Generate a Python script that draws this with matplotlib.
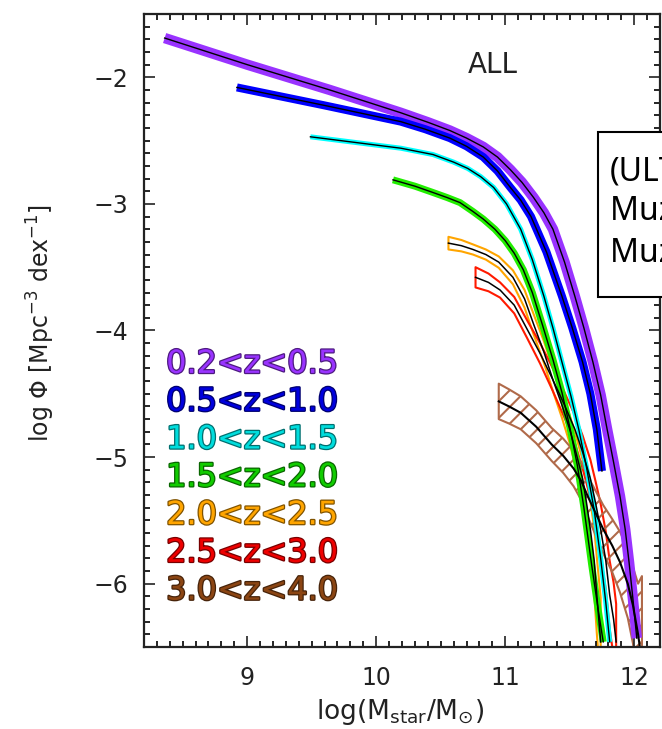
import numpy as np
import matplotlib.pyplot as plt
import matplotlib.patheffects as pe
from matplotlib.colors import to_rgb
from matplotlib.patches import Rectangle
from matplotlib.ticker import MultipleLocator

# stellar mass functions, ALL galaxies, one curve per redshift bin
# x = log(Mstar/Msun), y = log phi (central fit)
x_z02 = [8.36, 9.00, 9.64, 10.19, 10.40, 10.57, 10.70, 10.83, 10.94, 11.04, 11.13, 11.22,
         11.30, 11.37, 11.46, 11.54, 11.61, 11.68, 11.74, 11.79, 11.84, 11.89, 11.93, 11.96,
         11.99, 12.02]
y_z02 = [-1.69, -1.90, -2.10, -2.28, -2.355, -2.42, -2.48, -2.55, -2.63, -2.73, -2.83, -2.95,
         -3.07, -3.20, -3.46, -3.73, -3.98, -4.25, -4.51, -4.78, -5.04, -5.31, -5.57, -5.83,
         -6.12, -6.43]

x_z05 = [8.92, 9.59, 10.19, 10.38, 10.57, 10.70, 10.83, 10.94, 11.04, 11.12, 11.20, 11.32,
         11.44, 11.52, 11.60, 11.66, 11.71, 11.75]
y_z05 = [-2.08, -2.22, -2.35, -2.41, -2.48, -2.545, -2.63, -2.74, -2.87, -2.97, -3.10, -3.38,
         -3.73, -3.98, -4.25, -4.50, -4.78, -5.11]

x_z10 = [9.49, 9.88, 10.19, 10.44, 10.60, 10.71, 10.81, 10.91, 11.01, 11.12, 11.21, 11.30,
         11.37, 11.44, 11.51, 11.57, 11.63, 11.69, 11.74, 11.78, 11.81]
y_z10 = [-2.47, -2.52, -2.56, -2.61, -2.67, -2.72, -2.785, -2.87, -3.00, -3.20, -3.44, -3.73,
         -3.98, -4.25, -4.52, -4.78, -5.08, -5.42, -5.80, -6.15, -6.46]

x_z15 = [10.13, 10.30, 10.44, 10.55, 10.65, 10.75, 10.83, 10.92, 11.00, 11.07, 11.14, 11.21,
         11.29, 11.37, 11.44, 11.50, 11.56, 11.61, 11.67, 11.72, 11.76]
y_z15 = [-2.81, -2.86, -2.91, -2.95, -2.99, -3.06, -3.12, -3.20, -3.29, -3.39, -3.52, -3.70,
         -3.96, -4.23, -4.49, -4.76, -5.07, -5.40, -5.85, -6.20, -6.46]

# these three bins are drawn with their uncertainty (half width in dex)
x_z20 = [10.56, 10.66, 10.75, 10.85, 10.95, 11.06, 11.15, 11.22, 11.30, 11.37, 11.44, 11.50,
         11.55, 11.60, 11.63, 11.66, 11.69, 11.71, 11.74]
y_z20 = [-3.31, -3.33, -3.36, -3.40, -3.46, -3.58, -3.75, -3.95, -4.17, -4.39, -4.59, -4.78,
         -4.97, -5.17, -5.36, -5.57, -5.82, -6.09, -6.46]
e_z20 = [0.05, 0.045, 0.04, 0.04, 0.045, 0.055, 0.07, 0.08, 0.085, 0.09, 0.10, 0.11,
         0.13, 0.15, 0.18, 0.22, 0.26, 0.30, 0.35]

x_z25 = [10.77, 10.87, 10.96, 11.07, 11.17, 11.27, 11.37, 11.46, 11.54, 11.60, 11.66, 11.70,
         11.74, 11.78, 11.81, 11.84, 11.86]
y_z25 = [-3.58, -3.62, -3.68, -3.80, -3.99, -4.18, -4.39, -4.59, -4.78, -4.96, -5.17, -5.36,
         -5.57, -5.82, -6.09, -6.28, -6.46]
e_z25 = [0.08, 0.07, 0.06, 0.065, 0.07, 0.08, 0.09, 0.10, 0.11, 0.13, 0.15, 0.17,
         0.20, 0.23, 0.27, 0.29, 0.30]

x_z30 = [10.95, 11.03, 11.12, 11.24, 11.36, 11.45, 11.53, 11.59, 11.64, 11.70, 11.76, 11.83,
         11.89, 11.95, 11.99, 12.03, 12.06]
y_z30 = [-4.56, -4.60, -4.65, -4.76, -4.90, -4.99, -5.09, -5.19, -5.31, -5.44, -5.57, -5.70,
         -5.83, -6.00, -6.17, -6.40, -6.62]
e_z30 = [0.14, 0.135, 0.13, 0.13, 0.13, 0.135, 0.14, 0.15, 0.16, 0.175, 0.19, 0.21,
         0.24, 0.27, 0.30, 0.40, 0.68]

z_labels = ['0.2<z<0.5', '0.5<z<1.0', '1.0<z<1.5', '1.5<z<2.0',
            '2.0<z<2.5', '2.5<z<3.0', '3.0<z<4.0']
colors = ['#9933ff', '#0000ff', '#00ffff', '#22ee00', '#ffa500', '#ff1a00', '#b06a4a']
text_colors = ['#9933ff', '#0000dd', '#00dddd', '#11cc00', '#ffa500', '#ee0000', '#8b4513']

plt.rcParams['font.family'] = 'DejaVu Sans'
plt.rcParams['hatch.linewidth'] = 1.5

fig = plt.figure(figsize=(6.62, 7.29), dpi=100)
ax = fig.add_axes([0.2175, 0.1125, 0.7795, 0.8683])


def solid_band(x, y, color, width):
    ax.plot(x, y, color=color, lw=width, solid_capstyle='butt', solid_joinstyle='round')
    ax.plot(x, y, color='k', lw=1.0)


def open_band(x, y, err, color, hatch=None, centre_lw=1.1):
    x, y, err = np.asarray(x), np.asarray(y), np.asarray(err)
    ax.fill_between(x, y - err, y + err, facecolor='none', edgecolor=color,
                    lw=1.5, hatch=hatch)
    ax.plot(x, y, color='k', lw=centre_lw)


solid_band(x_z02, y_z02, colors[0], 7.5)
solid_band(x_z05, y_z05, colors[1], 5.8)
solid_band(x_z10, y_z10, colors[2], 3.6)
solid_band(x_z15, y_z15, colors[3], 5.0)
open_band(x_z20, y_z20, e_z20, colors[4])
open_band(x_z25, y_z25, e_z25, colors[5])
open_band(x_z30, y_z30, e_z30, colors[6], hatch='//', centre_lw=1.5)

ax.set_xlim(8.2, 12.2)
ax.set_ylim(-6.5, -1.5)
ax.set_xticks([9, 10, 11, 12])
ax.set_yticks([-6, -5, -4, -3, -2])
ax.xaxis.set_minor_locator(MultipleLocator(0.1))
ax.yaxis.set_minor_locator(MultipleLocator(0.1))
ax.tick_params(which='both', direction='in', top=True, right=True, width=1.2)
ax.tick_params(which='major', length=8)
ax.tick_params(which='minor', length=4.5)
ax.tick_params(axis='x', pad=14, labelsize=17, colors='#222222')
ax.tick_params(axis='y', pad=11, labelsize=17, colors='#222222')
for sp in ax.spines.values():
    sp.set_linewidth(1.6)
    sp.set_color('#222222')

ax.set_xlabel(r'log(M$_{\mathregular{star}}$/M$_{\odot}$)', fontsize=19, color='#222222', va='center')
ax.xaxis.set_label_coords(0.496, -0.103)
ax.set_ylabel(r'log $\Phi$ [Mpc$^{-3}$ dex$^{-1}$]', fontsize=17, color='#222222', va='center')
ax.yaxis.set_label_coords(-0.2, 0.512)

ax.text(0.676, 0.919, 'ALL', transform=ax.transAxes, fontsize=20,
        ha='center', va='center', color='#222222')

# redshift labels down the left side
for i, (lab, c) in enumerate(zip(z_labels, text_colors)):
    dark = tuple(v * 0.5 for v in to_rgb(c))
    ax.text(0.043, 0.433 - i * 0.0597, lab, transform=ax.transAxes,
            fontsize=23, color=c, va='baseline', ha='left',
            path_effects=[pe.withStroke(linewidth=1.8, foreground=dark)])

# reference box on the right edge
fig.add_artist(Rectangle((0.9033, 0.5926), 0.2, 0.2263, transform=fig.transFigure,
                         facecolor='white', edgecolor='black', lw=1.5, zorder=5))
for yb, line in zip([0.753, 0.698, 0.6406],
                    ['(ULTRA)VISTA', 'Muzzin et al. 2013a', 'Muzzin et al. 2013b']):
    fig.text(0.9215, yb, line, fontsize=23, family='Noto Sans', va='baseline',
             ha='left', zorder=6)

fig.savefig('out.png', dpi=100)
